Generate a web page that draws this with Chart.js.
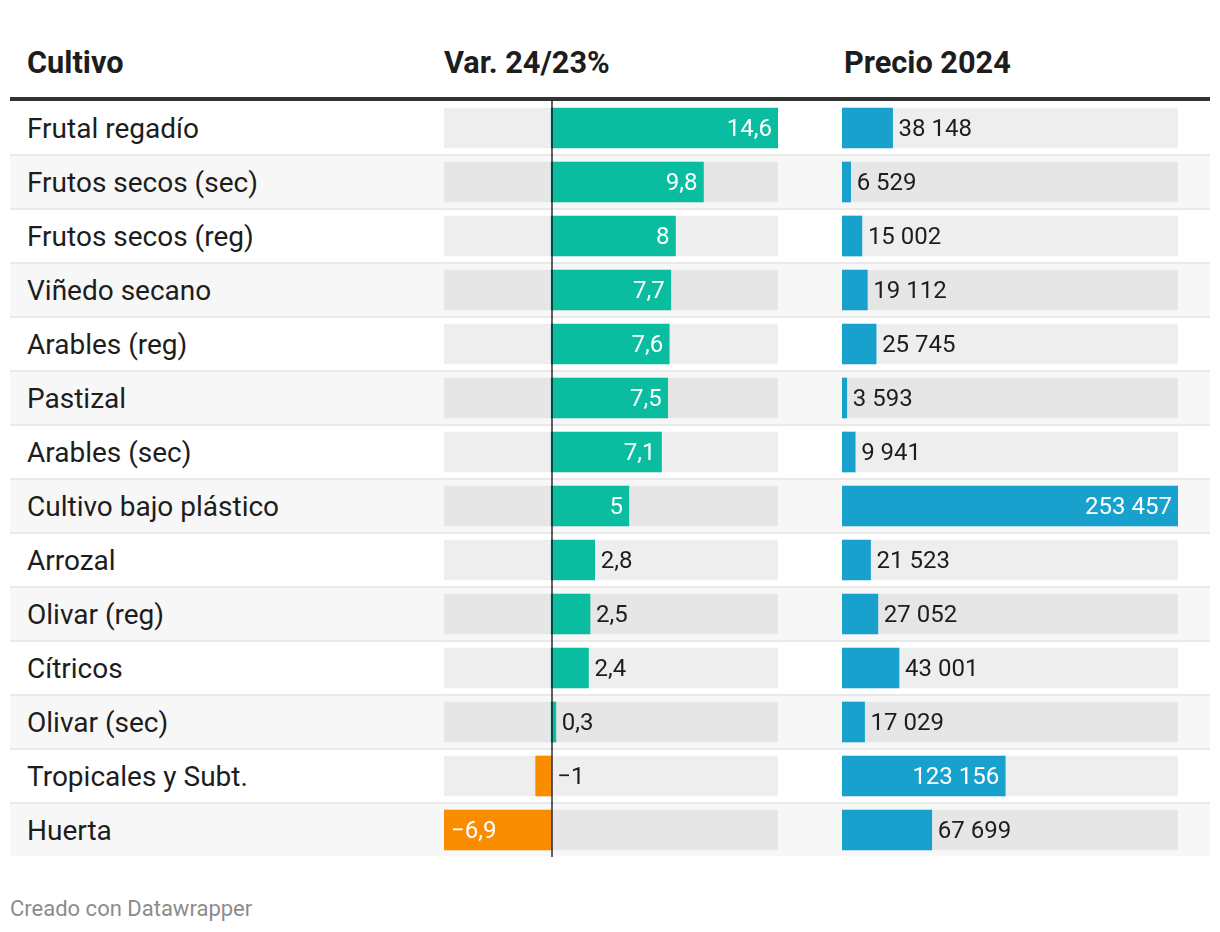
<!DOCTYPE html>
<html><head><meta charset="utf-8">
<script src="https://cdn.jsdelivr.net/npm/chart.js@4.4.1/dist/chart.umd.min.js"></script>
<style>
html,body{margin:0;padding:0;background:#fff;}
body{font-family:Roboto,"Noto Sans",sans-serif;color:#1d1d1d;}
#wrap{position:relative;width:1220px;height:932px;overflow:hidden;}
.hdr{position:absolute;top:44px;font-weight:700;font-size:30.7px;line-height:38px;color:#1d1d1d;white-space:nowrap;}
#thick{position:absolute;left:10px;top:97px;width:1200px;height:4px;background:#333;}
.row{position:absolute;left:10px;width:1200px;height:52px;border-bottom:2px solid #e9e9e9;}
.row.alt{background:#f7f7f7;}
.cat{position:absolute;left:27px;font-size:28px;line-height:32px;color:#1d1d1d;white-space:nowrap;}
.val{position:absolute;font-size:24px;line-height:28px;white-space:nowrap;}
canvas{position:absolute;}
#foot{position:absolute;left:10px;top:896px;font-size:22px;line-height:26px;color:#8c8c8c;}
</style></head>
<body><div id="wrap">
<div id="thick"></div>
<canvas id="cVar" width="334" height="756" style="left:444px;top:101px;width:334px;height:756px"></canvas>
<canvas id="cPrice" width="336" height="756" style="left:842px;top:101px;width:336px;height:756px"></canvas>
<div id="foot"></div>
</div>
<script>
const categories = ["Frutal regadío","Frutos secos (sec)","Frutos secos (reg)","Viñedo secano","Arables (reg)","Pastizal","Arables (sec)","Cultivo bajo plástico","Arrozal","Olivar (reg)","Cítricos","Olivar (sec)","Tropicales y Subt.","Huerta"];
const varValues = [14.6,9.8,8,7.7,7.6,7.5,7.1,5,2.8,2.5,2.4,0.3,-1,-6.9];
const priceValues = [38148,6529,15002,19112,25745,3593,9941,253457,21523,27052,43001,17029,123156,67699];
const headers = ["Cultivo","Var. 24/23%","Precio 2024"];
const headerX = [27,444,844];
const footerText = "Creado con Datawrapper";

const wrap = document.getElementById('wrap');
const ROW_TOP = 102, ROW_H = 54;

headers.forEach((h,i)=>{
  const d=document.createElement('div');d.className='hdr';d.textContent=h;d.style.left=headerX[i]+'px';wrap.appendChild(d);
});
categories.forEach((c,i)=>{
  const r=document.createElement('div');r.className='row'+(i%2?' alt':'');r.style.top=(ROW_TOP+i*ROW_H)+'px';
  if(i===categories.length-1) r.style.borderBottom='none';
  wrap.insertBefore(r, wrap.firstChild);
  const t=document.createElement('div');t.className='cat';t.textContent=c;t.style.top=(ROW_TOP+i*ROW_H+27-16)+'px';wrap.appendChild(t);
});
document.getElementById('foot').textContent=footerText;

function fmtVar(v){return String(v).replace('.',',').replace('-','\u2212');}
function fmtPrice(v){return String(v).replace(/\B(?=(\d{3})+(?!\d))/g,'\u00a0');}

const measure = document.createElement('canvas').getContext('2d');
measure.font = '24px Roboto';

const zeroLine = {
  id:'zeroLine',
  afterDatasetsDraw(chart, args, opts){
    if(!opts.show) return;
    const x = Math.round(chart.scales.x.getPixelForValue(0)) + 1;
    const ctx = chart.ctx;
    ctx.save();ctx.strokeStyle='rgba(0,0,0,0.62)';ctx.lineWidth=2;
    ctx.beginPath();ctx.moveTo(x,0);ctx.lineTo(x,chart.height);ctx.stroke();ctx.restore();
  }
};

function makeChart(id, values, min, max, colorFn, fmt, showZero){
  const chart = new Chart(document.getElementById(id), {
    type:'bar',
    data:{labels:categories, datasets:[
      {data:values, backgroundColor:values.map(colorFn), barThickness:40, grouped:false, order:1, borderWidth:0},
      {data:values.map(()=>[min,max]), backgroundColor:'rgba(0,0,0,0.068)', barThickness:40, grouped:false, order:2, borderWidth:0}
    ]},
    options:{
      indexAxis:'y', responsive:false, animation:false, devicePixelRatio:1,
      layout:{padding:0},
      scales:{
        x:{type:'linear', min:min, max:max, display:false},
        y:{type:'category', display:false, offset:true}
      },
      plugins:{legend:{display:false}, tooltip:{enabled:false}, zeroLine:{show:showZero}}
    },
    plugins:[zeroLine]
  });
  const cv = document.getElementById(id);
  const left = parseFloat(cv.style.left), top = parseFloat(cv.style.top);
  chart.getDatasetMeta(0).data.forEach((el,i)=>{
    const v = values[i];
    const txt = fmt(v);
    const tw = measure.measureText(txt).width;
    const barW = Math.abs(el.x - el.base);
    const inside = barW > tw + 40;
    const s = document.createElement('div'); s.className='val'; s.textContent = txt;
    s.style.top = (top + el.y - 14) + 'px';
    if(inside){
      s.style.color = '#fff';
      if(v>=0){ s.style.left = (left + el.x - 6 - tw) + 'px'; }
      else { s.style.left = (left + el.x + 7) + 'px'; }
    } else {
      s.style.color = '#1d1d1d';
      const start = v>=0 ? el.x : el.base;
      s.style.left = (left + start + 6) + 'px';
    }
    wrap.appendChild(s);
  });
  return chart;
}

makeChart('cVar', varValues, Math.min(...varValues), Math.max(...varValues), v=> v>=0 ? '#0abda0' : '#fa8c00', fmtVar, true);
makeChart('cPrice', priceValues, 0, Math.max(...priceValues), ()=>'#18a1cd', fmtPrice, false);
</script>
</body></html>
